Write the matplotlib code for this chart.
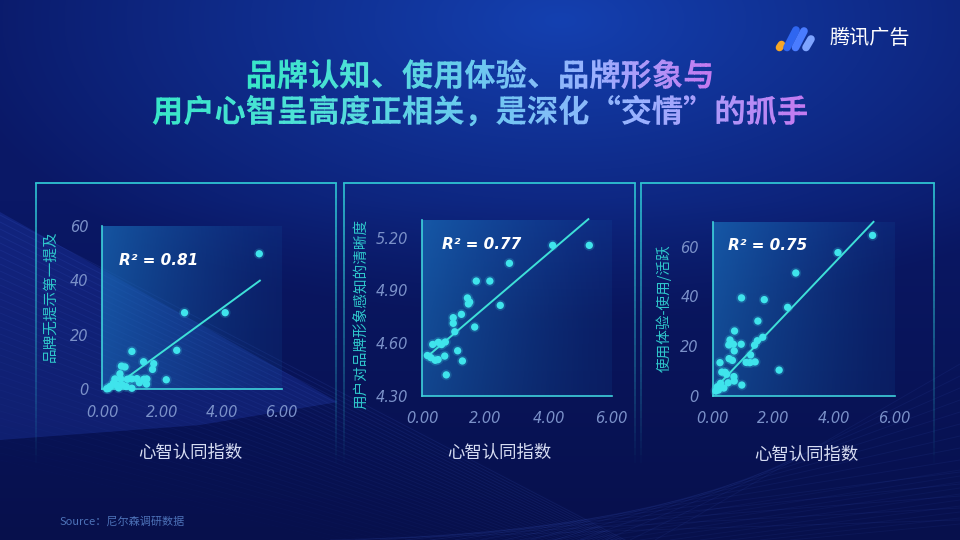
import numpy as np
import matplotlib
matplotlib.use("Agg")
import matplotlib.pyplot as plt
import matplotlib.colors as mcolors
from matplotlib.patheffects import AbstractPathEffect
from matplotlib.transforms import Bbox
from matplotlib.collections import LineCollection

plt.rcParams['font.family'] = ['Noto Sans CJK SC', 'DejaVu Sans']

# ---------------- data ----------------
title_line1 = "品牌认知、使用体验、品牌形象与"
title_line2 = "用户心智呈高度正相关，是深化“交情”的抓手"
brand_name = "腾讯广告"
source_text = "Source：尼尔森调研数据"
x_label = "心智认同指数"

y_labels = ["品牌无提示第一提及", "用户对品牌形象感知的清晰度", "使用体验-使用/活跃"]
r2_labels = ["R² = 0.81", "R² = 0.77", "R² = 0.75"]

x_ticks = [0, 2, 4, 6]
x_tick_labels = ["0.00", "2.00", "4.00", "6.00"]

y1_ticks = [0, 20, 40, 60]
y1_tick_labels = ["0", "20", "40", "60"]
y2_ticks = [4.30, 4.60, 4.90, 5.20]
y2_tick_labels = ["4.30", "4.60", "4.90", "5.20"]
y3_ticks = [0, 20, 40, 60]
y3_tick_labels = ["0", "20", "40", "60"]

# panel 1: 品牌无提示第一提及
x1 = [5.25, 2.75, 4.11, 2.49, 0.99, 1.38, 1.72, 1.68, 0.64, 0.76, 0.59, 0.42,
      0.61, 0.84, 0.99, 1.16, 1.24, 1.39, 1.49, 1.48, 2.14, 0.37, 0.48, 0.67,
      0.26, 0.15, 0.99, 0.55, 0.80, 0.20]
y1 = [49.7, 28.1, 28.1, 14.3, 13.9, 10.1, 9.4, 7.3, 8.5, 8.2, 5.7, 3.8,
      3.9, 3.7, 3.8, 3.9, 2.4, 3.7, 3.8, 1.9, 3.5, 2.2, 1.6, 1.6,
      1.0, 0.2, 0.4, 0.5, 1.0, 0.3]

# panel 2: 用户对品牌形象感知的清晰度
x2 = [5.29, 4.13, 2.76, 1.71, 2.14, 2.47, 1.43, 1.50, 1.46, 1.24, 0.98, 0.98,
      1.66, 1.03, 0.73, 0.51, 0.61, 0.33, 1.12, 0.71, 0.16, 0.27, 0.41, 0.50,
      1.27, 0.76]
y2 = [5.156, 5.156, 5.054, 4.953, 4.953, 4.815, 4.857, 4.834, 4.823, 4.764, 4.745, 4.713,
      4.692, 4.665, 4.607, 4.605, 4.592, 4.593, 4.557, 4.527, 4.530, 4.518, 4.503, 4.507,
      4.499, 4.420]

# panel 3: 使用体验-使用/活跃
x3 = [5.27, 4.13, 2.74, 2.47, 0.95, 1.70, 1.49, 0.72, 0.57, 0.68, 0.53, 0.94,
      0.71, 1.38, 1.65, 1.47, 1.25, 1.10, 1.23, 1.40, 0.54, 0.65, 0.24, 0.30,
      0.41, 0.46, 0.70, 0.71, 0.51, 0.96, 0.37, 0.19, 0.15, 0.26, 0.10, 2.19]
y3 = [64.5, 57.6, 49.4, 35.6, 39.4, 38.7, 30.1, 26.1, 22.5, 20.8, 20.5, 20.8,
      18.1, 20.4, 23.6, 22.2, 16.5, 13.5, 13.4, 13.7, 15.0, 14.3, 13.4, 9.6,
      9.5, 8.7, 7.8, 6.0, 5.3, 4.4, 3.2, 2.4, 3.7, 5.1, 2.0, 10.4]

# trend lines: slope, intercept, x start, x end
trend1 = [8.0, -2.3, 0.30, 5.27]
trend2 = [0.153, 4.50, 0.20, 5.26]
trend3 = [12.8, 2.1, 0.08, 5.30]

# ---------------- helpers ----------------
class HGradient(AbstractPathEffect):
    """Fill a text path with a horizontal colour gradient."""
    def __init__(self, colors, n=80):
        super().__init__()
        self.cmap = mcolors.LinearSegmentedColormap.from_list("g", colors)
        self.n = n

    def draw_path(self, renderer, gc, tpath, affine, rgbFace=None):
        ext = tpath.get_extents(affine)
        x0, x1_ = ext.x0, ext.x1
        for i in range(self.n):
            gc0 = renderer.new_gc()
            gc0.copy_properties(gc)
            a = x0 + (x1_ - x0) * i / self.n
            b = x0 + (x1_ - x0) * (i + 1) / self.n
            gc0.set_clip_rectangle(Bbox.from_extents(a - 0.5, ext.y0 - 3, b + 1.0, ext.y1 + 3))
            renderer.draw_path(gc0, tpath, affine, self.cmap((i + 0.5) / self.n))
            gc0.restore()


W, H = 960, 540
fig = plt.figure(figsize=(9.6, 5.4), dpi=100)

# ---------------- background ----------------
bg = fig.add_axes([0, 0, 1, 1])
bg.set_xlim(0, W)
bg.set_ylim(H, 0)
bg.axis("off")

yy, xx = np.mgrid[0:H, 0:W]
c_center = np.array(mcolors.to_rgb("#1440b0"))
c_edge = np.array(mcolors.to_rgb("#0a1866"))
c_bottom = np.array(mcolors.to_rgb("#07104c"))
r = np.sqrt(((xx - 560) / 620.0) ** 2 + ((yy - 20) / 300.0) ** 2)
t = np.clip(r, 0, 1)[..., None]
img = c_center * (1 - t) + c_edge * t
tb = np.clip((yy - 200) / 340.0, 0, 1)[..., None]
img = img * (1 - tb) + c_bottom * tb
bg.imshow(img, extent=[0, W, H, 0], aspect="auto", zorder=0)

# lighter wave band at lower-left
band = plt.Polygon([[0, 212], [338, 402], [200, 425], [0, 440]],
                   closed=True, facecolor="#3050d8", alpha=0.22, edgecolor="none", zorder=1)
bg.add_patch(band)

# decorative fine lines
segs, alphas = [], []
for k in range(36):
    y0 = 215 + k * 7
    slope = 0.52 - k * 0.008
    segs.append([(0, y0), (W, y0 + slope * W)])
    alphas.append(0.10 * (1 - k / 40.0))
for k in range(14):
    segs.append([(330 + k * 25, H), (W, 520 - k * 12)])
    alphas.append(0.07)
for k in range(10):
    segs.append([(520 + k * 30, H), (W, 470 + k * 6)])
    alphas.append(0.06)
cols = [(0.35, 0.5, 1.0, a) for a in alphas]
bg.add_collection(LineCollection(segs, colors=cols, linewidths=0.7, zorder=2))

# ---------------- panel frames ----------------
frames = [(36, 336), (344, 635), (641, 934)]
frame_top, frame_fade = 183, 470
for (fx0, fx1) in frames:
    bg.plot([fx0, fx1], [frame_top, frame_top], color="#2fc3d2", lw=1.3, zorder=4)
    ys = np.linspace(frame_top, frame_fade, 40)
    for fx in (fx0, fx1):
        s = [[(fx, ys[i]), (fx, ys[i + 1])] for i in range(len(ys) - 1)]
        a = np.linspace(0.95, 0.0, len(s))
        bg.add_collection(LineCollection(s, colors=[(0.18, 0.76, 0.82, ai) for ai in a],
                                         linewidths=1.3, zorder=4))

# ---------------- title ----------------
grad_cols = ["#38e6c8", "#4fe0d8", "#6cc8f0", "#9ab0ff", "#c47af0"]
t1 = bg.text(480, 77, title_line1, ha="center", va="center", fontsize=22.5,
             fontweight="bold", color="#5fd3e6", zorder=10)
t1.set_path_effects([HGradient(grad_cols)])
t2 = bg.text(480, 113, title_line2, ha="center", va="center", fontsize=22.5,
             fontweight="bold", color="#5fd3e6", zorder=10)
t2.set_path_effects([HGradient(grad_cols)])

# ---------------- logo ----------------
bg.plot([779.5, 781.5], [47.5, 44.5], color="#f6a626", lw=5.5, solid_capstyle="round", zorder=10)
bg.plot([787, 796], [47.5, 30], color="#2f66f0", lw=5.5, solid_capstyle="round", zorder=10)
bg.plot([795.5, 804], [47.5, 31], color="#4a7cff", lw=5.5, solid_capstyle="round", zorder=10)
bg.plot([806, 811], [47.5, 39], color="#7ea4ff", lw=5.5, solid_capstyle="round", zorder=10)
bg.text(829, 38, brand_name, ha="left", va="center", fontsize=14.5, color="white",
        fontweight="medium", zorder=10)

# ---------------- source ----------------
bg.text(60, 521, source_text, ha="left", va="center", fontsize=8, color="#4d72b8",
        style="italic", zorder=10)

# ---------------- scatter panels ----------------
axes_pos = [
    [102.3, 225.7, 281.7, 389.3],
    [422.3, 220.0, 611.7, 396.0],
    [712.7, 221.7, 894.7, 396.0],
]
ylims = [(0, 60), (4.3, 5.3), (0, 70)]
yticks = [(y1_ticks, y1_tick_labels), (y2_ticks, y2_tick_labels), (y3_ticks, y3_tick_labels)]
xs = [x1, x2, x3]
ys_ = [y1, y2, y3]
trends = [trend1, trend2, trend3]
ylabel_x = [50, 361, 664]
ylabel_y = [296, 314, 308]
xlabel_pos = [(190, 453), (499, 453), (806, 455)]
r2_pos = [(0.093, 0.79), (0.102, 0.858), (0.084, 0.866)]

cyan = "#3fe4ec"
for i in range(3):
    l, top, rgt, bot = axes_pos[i]
    ax = fig.add_axes([l / W, 1 - bot / H, (rgt - l) / W, (bot - top) / H])
    ax.set_facecolor("none")
    ylo, yhi = ylims[i]
    # gradient fill of plot area
    gx = np.linspace(0, 1, 200)[None, :]
    gy = np.linspace(0, 1, 100)[:, None]
    alpha = 0.62 * (1 - gx) ** 1.3 * (0.75 + 0.25 * gy) + 0.12
    rgba = np.zeros((100, 200, 4))
    rgba[..., 0] = 0.10
    rgba[..., 1] = 0.42
    rgba[..., 2] = 0.72
    rgba[..., 3] = alpha
    ax.imshow(rgba, extent=[0, 6, ylo, yhi], origin="lower", aspect="auto", zorder=0)
    ax.set_xlim(0, 6)
    ax.set_ylim(ylo, yhi)
    for sp in ("top", "right"):
        ax.spines[sp].set_visible(False)
    for sp in ("left", "bottom"):
        ax.spines[sp].set_color("#3fd2dc")
        ax.spines[sp].set_linewidth(1.2)
    ax.set_xticks(x_ticks)
    ax.set_xticklabels(x_tick_labels)
    ax.set_yticks(yticks[i][0])
    ax.set_yticklabels(yticks[i][1])
    ax.tick_params(length=0, colors="#7b91c9", labelsize=10.5)
    ax.tick_params(axis="x", pad=11)
    ax.tick_params(axis="y", pad=10)
    for lab in ax.get_xticklabels() + ax.get_yticklabels():
        lab.set_fontstyle("italic")
        lab.set_family(["DejaVu Sans"])
        lab.set_fontweight("light")

    # trend line
    slope, icpt, xa, xb = trends[i]
    tx = np.array([xa, xb])
    ax.plot(tx, slope * tx + icpt, color="#3ee0d8", lw=1.4, zorder=3, clip_on=False)
    # glow + points
    ax.scatter(xs[i], ys_[i], s=60, color=cyan, alpha=0.18, edgecolors="none", zorder=4, clip_on=False)
    ax.scatter(xs[i], ys_[i], s=28, color=cyan, edgecolors="none", zorder=5, clip_on=False)

    ax.text(r2_pos[i][0], r2_pos[i][1], r2_labels[i], transform=ax.transAxes,
            ha="left", va="center", fontsize=11, color="white", fontweight="bold",
            style="italic", family=["DejaVu Sans"], zorder=6)

    bg.text(ylabel_x[i], ylabel_y[i], y_labels[i], rotation=90, ha="center", va="center",
            fontsize=10.5, color="#2fc8cc", zorder=10)
    bg.text(xlabel_pos[i][0], xlabel_pos[i][1], x_label, ha="center", va="center",
            fontsize=12.5, color="#d6dcf2", zorder=10)

fig.savefig("out.png", dpi=100)
